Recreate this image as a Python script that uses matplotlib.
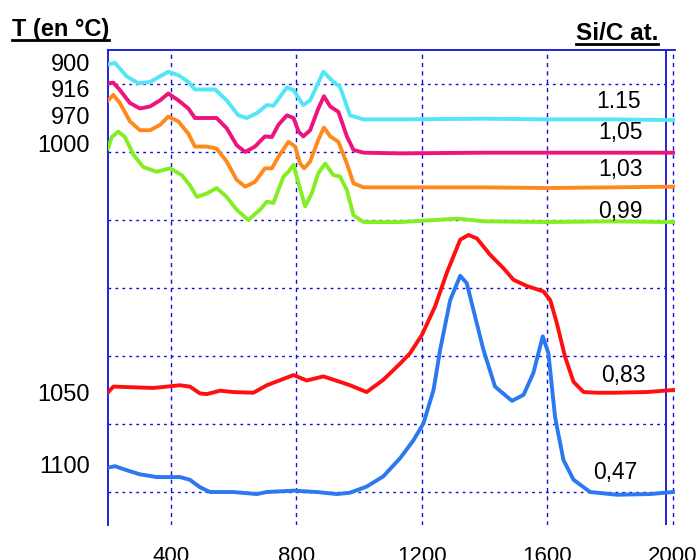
"""Stacked spectra (Si/C at.) vs wavenumber, annotated with growth temperature."""
import matplotlib
matplotlib.use("Agg")
import matplotlib.pyplot as plt
from matplotlib.lines import Line2D

plt.rcParams["font.family"] = ["Liberation Sans", "DejaVu Sans"]

# ---- data (x in cm-1, y in stacked arbitrary units) ----
x_115 = [200, 222, 260, 297, 334, 392, 424, 456, 477, 541, 578, 615, 642, 674, 706, 727,
         770, 791, 822, 844, 886, 918, 939, 971, 1014, 1131, 1400, 1600, 1800, 2000]
y_115 = [6.29, 6.31, 6.11, 6.01, 6.03, 6.18, 6.13, 6.03, 5.92, 5.92, 5.76, 5.54, 5.50, 5.57,
         5.69, 5.68, 5.95, 5.91, 5.69, 5.76, 6.18, 6.03, 5.96, 5.54, 5.48, 5.48, 5.49, 5.48,
         5.48, 5.47]

x_105 = [200, 217, 238, 270, 302, 334, 366, 392, 424, 456, 477, 546, 578, 610, 637, 668, 700,
         722, 743, 770, 791, 807, 822, 844, 870, 888, 908, 934, 961, 982, 1014, 1131, 1400,
         1600, 1800, 2000]
y_105 = [6.01, 6.02, 5.91, 5.72, 5.64, 5.67, 5.76, 5.86, 5.76, 5.64, 5.50, 5.50, 5.35, 5.10,
         5.00, 5.08, 5.23, 5.22, 5.40, 5.54, 5.50, 5.30, 5.23, 5.32, 5.64, 5.82, 5.67, 5.59,
         5.23, 5.03, 4.99, 4.98, 4.99, 4.99, 4.99, 4.99]

x_103 = [200, 217, 238, 270, 302, 334, 366, 392, 424, 456, 477, 515, 546, 578, 610, 637, 668,
         700, 722, 743, 775, 796, 812, 825, 844, 870, 888, 908, 934, 961, 982, 1014, 1131,
         1400, 1600, 1800, 2000]
y_103 = [5.76, 5.84, 5.72, 5.45, 5.32, 5.32, 5.40, 5.52, 5.45, 5.27, 5.08, 5.08, 5.05, 4.86,
         4.59, 4.49, 4.56, 4.76, 4.76, 4.93, 5.15, 5.08, 4.83, 4.76, 4.86, 5.18, 5.36, 5.23,
         5.15, 4.83, 4.54, 4.48, 4.48, 4.48, 4.47, 4.48, 4.49]

x_099 = [200, 212, 233, 254, 281, 312, 355, 398, 435, 461, 483, 515, 546, 578, 610, 647, 684,
         706, 727, 759, 775, 791, 807, 828, 849, 870, 892, 918, 939, 961, 982, 1014, 1131,
         1315, 1400, 1600, 1800, 2000]
y_099 = [5.05, 5.22, 5.30, 5.22, 4.96, 4.78, 4.71, 4.76, 4.66, 4.51, 4.34, 4.39, 4.47, 4.34,
         4.15, 4.00, 4.15, 4.27, 4.25, 4.64, 4.71, 4.81, 4.54, 4.20, 4.39, 4.69, 4.83, 4.66,
         4.64, 4.44, 4.07, 3.97, 3.97, 4.02, 3.98, 3.97, 3.98, 3.97]

x_083 = [201, 217, 281, 344, 429, 461, 493, 515, 557, 599, 663, 706, 791, 833, 886, 939, 971,
         1024, 1077, 1131, 1162, 1200, 1242, 1279, 1322, 1348, 1375, 1417, 1460, 1492, 1534,
         1587, 1609, 1630, 1656, 1683, 1715, 1757, 1810, 1917, 2000]
y_083 = [1.47, 1.55, 1.54, 1.53, 1.57, 1.55, 1.45, 1.44, 1.49, 1.47, 1.46, 1.57, 1.72, 1.64,
         1.70, 1.62, 1.57, 1.47, 1.65, 1.89, 2.04, 2.31, 2.73, 3.22, 3.71, 3.78, 3.73, 3.49,
         3.29, 3.12, 3.03, 2.95, 2.82, 2.48, 1.99, 1.62, 1.47, 1.46, 1.46, 1.47, 1.50]

x_047 = [201, 222, 260, 302, 355, 429, 461, 493, 525, 599, 674, 706, 791, 865, 929, 971, 1024,
         1077, 1131, 1173, 1205, 1237, 1258, 1290, 1322, 1343, 1364, 1396, 1433, 1487, 1524,
         1555, 1585, 1603, 1624, 1630, 1651, 1683, 1736, 1821, 1927, 2000]
y_047 = [0.36, 0.38, 0.32, 0.26, 0.22, 0.22, 0.18, 0.07, 0.00, 0.00, -0.03, 0.00, 0.02, 0.00,
         -0.03, -0.01, 0.08, 0.23, 0.50, 0.76, 1.01, 1.50, 2.09, 2.82, 3.18, 3.07, 2.68, 2.09,
         1.55, 1.34, 1.43, 1.75, 2.29, 2.04, 1.11, 0.96, 0.47, 0.18, 0.00, -0.04, -0.03, 0.00]

series = [
    (x_115, y_115, "#52E6F6", "1.15", 1897, 5.74),
    (x_105, y_105, "#EE147C", "1,05", 1902, 5.28),
    (x_103, y_103, "#FF8A1C", "1,03", 1902, 4.74),
    (x_099, y_099, "#84EE22", "0,99", 1902, 4.12),
    (x_083, y_083, "#FF1010", "0,83", 1912, 1.72),
    (x_047, y_047, "#2B78F0", "0,47", 1886, 0.28),
]

temp_labels = ["900", "916", "970", "1000", "1050", "1100"]
temp_pos = [6.32, 5.93, 5.54, 5.12, 1.47, 0.40]

x_ticks = [400, 800, 1200, 1600, 2000]
grid_rows = [0, 1, 2, 3, 4, 5, 6]

AXIS_BLUE = "#1010D8"

fig = plt.figure(figsize=(6.99, 5.60), dpi=100)
ax = fig.add_axes([108 / 699, 1 - 525 / 560, (674.6 - 108) / 699, 475 / 560])

for xs, ys, col, lab, lx, ly in series:
    ax.plot(xs, ys, color=col, lw=2.8, solid_joinstyle="round", zorder=3)
    ax.text(lx, ly, lab, ha="right", va="center", fontsize=16.5, color="black", zorder=4)

ax.set_xlim(200, 2005)
ax.set_ylim(-0.485, 6.5)

ax.set_xticks(x_ticks)
ax.set_xticklabels([str(v) for v in x_ticks], fontsize=16)
ax.set_yticks(temp_pos)
ax.set_yticklabels(temp_labels, fontsize=17)
ax.set_yticks(grid_rows, minor=True)
ax.tick_params(axis="x", length=0, pad=15)
ax.tick_params(axis="y", which="major", length=0, pad=13)
ax.tick_params(axis="y", which="minor", length=0)

ax.grid(axis="x", which="major", color=AXIS_BLUE, lw=1.0, linestyle=(0, (3, 3)))
ax.grid(axis="y", which="minor", color=AXIS_BLUE, lw=1.0, linestyle=(0, (2, 3)))
ax.grid(axis="y", which="major", visible=False)

for side in ("bottom", "right"):
    ax.spines[side].set_visible(False)
for side in ("left", "top"):
    ax.spines[side].set_color(AXIS_BLUE)
    ax.spines[side].set_linewidth(1.3)
ax.axvline(1978, color=AXIS_BLUE, lw=1.3, zorder=2)

# underlined bold headers
t1 = fig.text(12 / 699, 1 - 36 / 560, "T (en °C)", fontsize=17, fontweight="bold",
              ha="left", va="baseline")
t2 = fig.text(658 / 699, 1 - 40 / 560, "Si/C at.", fontsize=17.5, fontweight="bold",
              ha="right", va="baseline")
fig.canvas.draw()
renderer = fig.canvas.get_renderer()
for t, uy in ((t1, 39.5), (t2, 43.5)):
    bb = t.get_window_extent(renderer)
    fig.add_artist(Line2D([bb.x0 / 699, bb.x1 / 699], [1 - uy / 560] * 2,
                          transform=fig.transFigure, color="black", lw=2.0))

fig.savefig("out.png", dpi=100)
